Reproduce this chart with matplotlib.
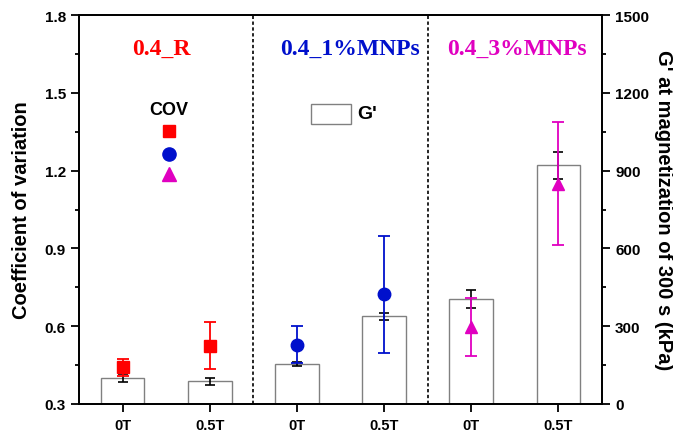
import matplotlib
matplotlib.use("Agg")
import matplotlib.pyplot as plt
from matplotlib.ticker import MultipleLocator
from matplotlib.patches import Rectangle
import numpy as np

categories = ["0T", "0.5T", "0T", "0.5T", "0T", "0.5T"]
gprime = [99, 88, 153, 338, 405, 920]
gprime_err = [15, 13, 8, 14, 35, 52]
cov = [0.441, 0.525, 0.529, 0.723, 0.597, 1.150]
cov_err = [0.032, 0.090, 0.071, 0.225, 0.111, 0.237]
group_names = ["0.4_R", "0.4_1%MNPs", "0.4_3%MNPs"]
group_colors = ["#FF0000", "#0010CC", "#E000C0"]
markers = ["s", "s", "o", "o", "^", "^"]
marker_colors = ["#FF0000", "#FF0000", "#0010CC", "#0010CC", "#E000C0", "#E000C0"]

plt.rcParams['font.family'] = ['Liberation Sans', 'DejaVu Sans']
plt.rcParams['font.weight'] = 'bold'

fig = plt.figure(figsize=(6.73, 4.35), dpi=100)
ax = fig.add_axes([0.1174, 0.069, 0.777, 0.894])
ax2 = ax.twinx()

x = np.arange(len(categories))

# bars on right axis
ax2.bar(x, gprime, width=0.5, facecolor='white', edgecolor='#808080', linewidth=1.0, zorder=2)
ax2.errorbar(x, gprime, yerr=gprime_err, fmt='none', ecolor='black', elinewidth=1.2,
             capsize=3.5, capthick=1.2, zorder=3)
ax2.set_ylim(0, 1500)
ax2.yaxis.set_major_locator(MultipleLocator(300))
ax2.yaxis.set_minor_locator(MultipleLocator(150))
ax2.set_ylabel("G' at magnetization of 300 s (kPa)", fontsize=14.5, fontweight='bold',
               rotation=270, labelpad=17)

# COV markers on left axis
ax.set_zorder(ax2.get_zorder() + 1)
ax.patch.set_visible(False)
for i in range(len(categories)):
    ax.errorbar(x[i], cov[i], yerr=cov_err[i], fmt=markers[i], color=marker_colors[i],
                ecolor=marker_colors[i], markersize=9, elinewidth=1.3, capsize=4.5,
                capthick=1.3, zorder=5)

ax.set_xlim(-0.5, 5.5)
ax.set_ylim(0.3, 1.8)
ax.yaxis.set_major_locator(MultipleLocator(0.3))
ax.yaxis.set_minor_locator(MultipleLocator(0.15))
ax.set_ylabel("Coefficient of variation", fontsize=14.5, fontweight='bold', labelpad=10)
ax.set_xticks(x)
ax.set_xticklabels(categories)

for sep in [1.5, 3.5]:
    ax.axvline(sep, color='black', linestyle=(0, (2, 1.5)), linewidth=1.2, zorder=1)

title_x = [0.45, 2.61, 4.52]
for tx, name, col in zip(title_x, group_names, group_colors):
    ax.text(tx, 1.67, name, color=col, fontsize=17, fontweight='bold',
            family=['Liberation Serif', 'DejaVu Serif'], ha='center', va='center')

# COV legend
ax.text(0.172, 0.758, "COV", transform=ax.transAxes, fontsize=13, fontweight='bold',
        ha='center', va='center')
ax.plot([0.172], [0.702], marker='s', color='#FF0000', markersize=8.5, transform=ax.transAxes, clip_on=False)
ax.plot([0.172], [0.643], marker='o', color='#0010CC', markersize=9.5, transform=ax.transAxes, clip_on=False)
ax.plot([0.172], [0.591], marker='^', color='#E000C0', markersize=10, transform=ax.transAxes, clip_on=False)

# G' legend
ax.add_patch(Rectangle((0.444, 0.72), 0.076, 0.051, transform=ax.transAxes,
                       facecolor='white', edgecolor='#808080', linewidth=1.0))
ax.text(0.533, 0.746, "G'", transform=ax.transAxes, fontsize=14, fontweight='bold',
        ha='left', va='center')

for a in (ax, ax2):
    for s in a.spines.values():
        s.set_linewidth(1.3)
    a.tick_params(which='major', direction='out', length=6, width=1.3, labelsize=11)
    a.tick_params(which='minor', direction='out', length=3, width=1.3)
ax.tick_params(axis='x', which='major', pad=4, labelsize=10.5)
ax.tick_params(axis='x', which='minor', bottom=False)
ax2.tick_params(axis='x', which='both', top=False, bottom=False)
for lbl in ax.get_xticklabels() + ax.get_yticklabels() + ax2.get_yticklabels():
    lbl.set_fontweight('bold')

fig.savefig("out.png", dpi=100)
